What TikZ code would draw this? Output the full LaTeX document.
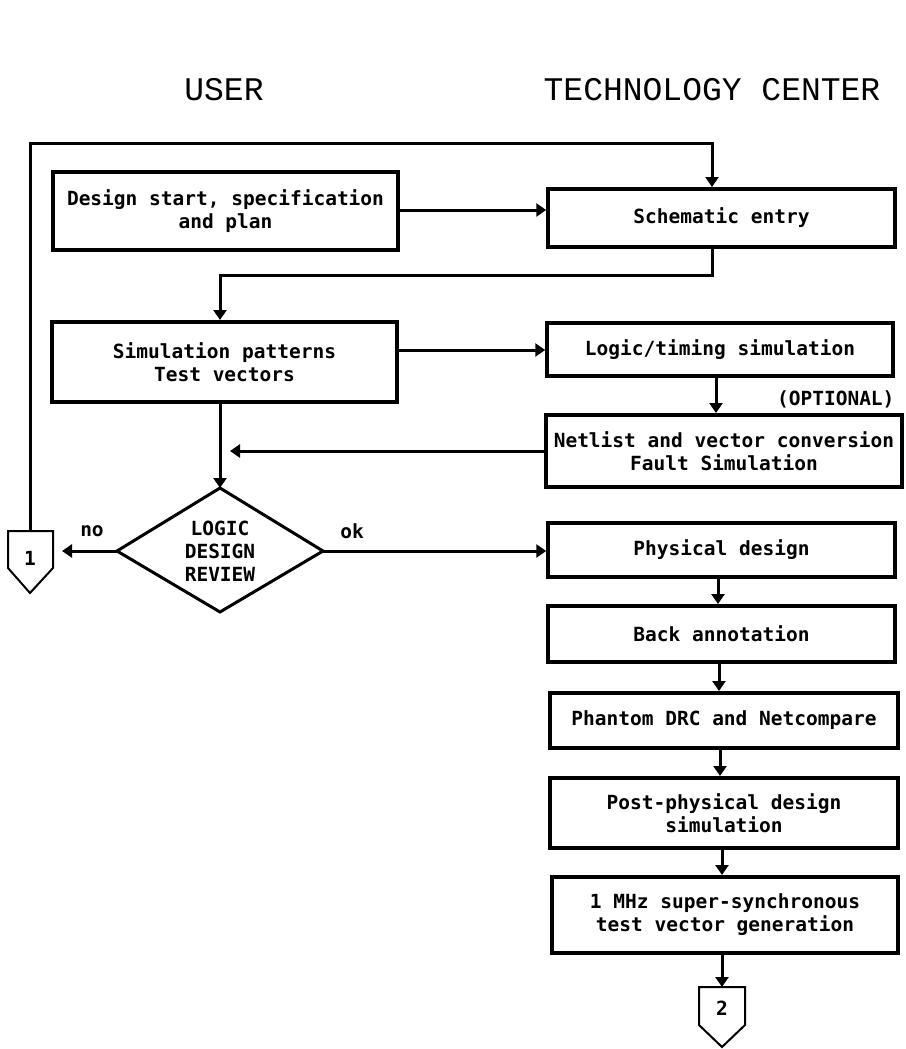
\documentclass[tikz,border=0pt]{standalone}
\usepackage{fontspec}
\newfontfamily\boxfont{DejaVu Sans Mono}
\newfontfamily\headfont{Liberation Mono}
\usetikzlibrary{arrows.meta,positioning,calc}

\tikzset{
  flow/.style={line width=3pt, -{Triangle[length=10pt,width=13pt]}},
  stepbox/.style={draw, line width=3.5pt, font=\boxfont\bfseries\fontsize{19.5}{23}\selectfont,
    align=center, inner sep=0pt},
  head/.style={font=\headfont\fontsize{33}{36}\selectfont, anchor=center},
  tag/.style={font=\boxfont\bfseries\fontsize{19.5}{23}\selectfont},
  offpage/.style={draw, line width=2pt},
}

\newcommand{\rbox}[6]{% name, x1, y1, x2, y2, text
  \node[stepbox, minimum width={(#4)-(#2)}, minimum height={(#5)-(#3)}]
    (#1) at ({((#2)+(#4))/2},{((#3)+(#5))/2}) {#6};}

\begin{document}
\begin{tikzpicture}[x=1pt, y=-1pt]
\useasboundingbox (0,0) rectangle (905,1049);

% column headings
\node[head] (huser) at (224,90) {USER};
\node[head] (htech) at (712,90) {TECHNOLOGY CENTER};

% process boxes
\rbox{design}{53}{172}{398}{250}{Design start, specification\\ and plan}
\rbox{schem}{548}{189}{895}{247}{Schematic entry}
\rbox{simpat}{52}{322}{397}{402}{Simulation patterns\\Test vectors}
\rbox{logic}{547}{323}{893}{376}{Logic/timing simulation}
\rbox{netlist}{546}{415}{902}{487}{Netlist and vector conversion\\Fault Simulation}
\rbox{phys}{548}{523}{895}{577}{Physical design}
\rbox{back}{548}{606}{895}{662}{Back annotation}
\rbox{phantom}{550}{693}{898}{748}{Phantom DRC and Netcompare}
\rbox{post}{550}{778}{898}{848}{Post-physical design\\simulation}
\rbox{mhz}{552}{877}{898}{953}{1 MHz super-synchronous\\test vector generation}

% decision
\draw[line width=3pt, line join=miter] (220,488) -- (323,551) -- (220,612) -- (117,551) -- cycle;
\node[tag, align=center] (review) at (220,551) {LOGIC\\DESIGN\\REVIEW};
\coordinate (dtop) at (220,488);
\coordinate (dleft) at (117,551);
\coordinate (dright) at (323,551);

% off-page connectors
\draw[offpage] (8,531) -- (53,531) -- (53,568) -- (30,593) -- (8,568) -- cycle;
\node[tag] (c1) at (30,558) {1};
\coordinate (c1top) at (30,531);
\coordinate (c1in) at (62,551);
\draw[offpage] (699,987) -- (745,987) -- (745,1025) -- (722,1047) -- (699,1025) -- cycle;
\node[tag] (c2) at (722,1008) {2};
\coordinate (c2top) at (722,987);

% labels
\node[tag, anchor=east] (opt) at (898,399) {(OPTIONAL)};
\node[tag] (lno) at (92,531) {no};
\node[tag] (lok) at (352,531) {ok};

% connectors
\draw[flow] (design.east |- 0,210) -- (schem.west |- 0,210);
\draw[flow] (c1top) -- (30,143) -- (712,143) -- (712,187);
\draw[flow] (712,247) -- (712,275) -- (220,275) -- (220,320);
\draw[flow] (simpat.east |- 0,350) -- (logic.west |- 0,350);
\draw[flow] (716,376) -- (716,413);
\draw[flow] (netlist.west |- 0,451) -- (230,451);
\draw[flow] (220,402) -- (dtop);
\draw[flow] (dleft) -- (c1in);
\draw[flow] (dright) -- (phys.west |- 0,551);
\draw[flow] (718,577) -- (718,604);
\draw[flow] (719,662) -- (719,691);
\draw[flow] (720,748) -- (720,776);
\draw[flow] (722,848) -- (722,875);
\draw[flow] (722,953) -- (c2top);
\end{tikzpicture}
\end{document}
